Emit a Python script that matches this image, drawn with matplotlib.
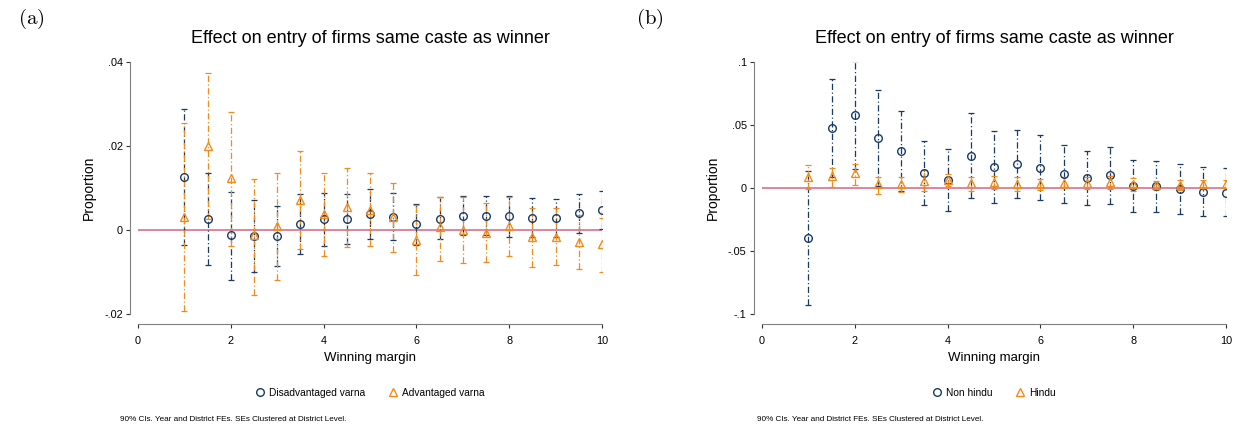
import matplotlib
matplotlib.use("Agg")
import matplotlib.pyplot as plt
import numpy as np

plt.rcParams['font.family'] = ['Liberation Sans', 'DejaVu Sans']
plt.rcParams['mathtext.fontset'] = 'cm'

margin = [1, 1.5, 2, 2.5, 3, 3.5, 4, 4.5, 5, 5.5, 6, 6.5, 7, 7.5, 8, 8.5, 9, 9.5, 10]

# panel (a): caste / varna
dis_est = [0.0126, 0.0025, -0.0013, -0.0014, -0.0015, 0.0014, 0.0025, 0.0026, 0.0038, 0.0032,
           0.0014, 0.0026, 0.0034, 0.0034, 0.0033, 0.0028, 0.0028, 0.0040, 0.0047]
dis_hi = [0.0287, 0.0135, 0.0091, 0.0072, 0.0056, 0.0085, 0.0087, 0.0085, 0.0097, 0.0087,
          0.0062, 0.0079, 0.0082, 0.0082, 0.0082, 0.0075, 0.0074, 0.0086, 0.0093]
dis_lo = [-0.0036, -0.0083, -0.0118, -0.0099, -0.0086, -0.0056, -0.0038, -0.0033, -0.0021, -0.0025,
          -0.0036, -0.0022, -0.0013, -0.0012, -0.0017, -0.0017, -0.0017, -0.0006, 0.0002]

adv_est = [0.0032, 0.0201, 0.0123, -0.0013, 0.0010, 0.0071, 0.0037, 0.0055, 0.0048, 0.0032,
           -0.0024, 0.0006, 0.0000, -0.0006, 0.0010, -0.0016, -0.0016, -0.0029, -0.0033]
adv_hi = [0.0254, 0.0375, 0.0281, 0.0122, 0.0136, 0.0189, 0.0136, 0.0148, 0.0136, 0.0113,
          0.0059, 0.0079, 0.0079, 0.0065, 0.0079, 0.0053, 0.0052, 0.0036, 0.0029]
adv_lo = [-0.0192, 0.0027, -0.0038, -0.0155, -0.0119, -0.0046, -0.0063, -0.0040, -0.0037, -0.0052,
          -0.0107, -0.0075, -0.0079, -0.0077, -0.0063, -0.0087, -0.0084, -0.0094, -0.0099]

# panel (b): religion
nh_est = [-0.0397, 0.0476, 0.0579, 0.0399, 0.0294, 0.0116, 0.0063, 0.0257, 0.0167, 0.0193,
          0.0161, 0.0111, 0.0079, 0.0103, 0.0019, 0.0013, -0.0011, -0.0029, -0.0037]
nh_hi = [0.0135, 0.0868, 0.1008, 0.0780, 0.0608, 0.0373, 0.0307, 0.0598, 0.0452, 0.0463,
         0.0418, 0.0339, 0.0291, 0.0325, 0.0225, 0.0214, 0.0190, 0.0164, 0.0161]
nh_lo = [-0.0929, 0.0084, 0.0150, 0.0018, -0.0020, -0.0138, -0.0180, -0.0079, -0.0119, -0.0079,
         -0.0095, -0.0122, -0.0138, -0.0124, -0.0193, -0.0188, -0.0204, -0.0220, -0.0225]

hin_est = [0.0090, 0.0095, 0.0122, 0.0029, 0.0029, 0.0058, 0.0063, 0.0042, 0.0045, 0.0032,
           0.0029, 0.0042, 0.0040, 0.0045, 0.0029, 0.0021, 0.0024, 0.0029, 0.0029]
hin_hi = [0.0183, 0.0156, 0.0193, 0.0090, 0.0085, 0.0143, 0.0111, 0.0090, 0.0095, 0.0085,
          0.0070, 0.0085, 0.0090, 0.0095, 0.0080, 0.0055, 0.0061, 0.0063, 0.0061]
hin_lo = [-0.0010, 0.0010, 0.0021, -0.0048, -0.0034, -0.0021, 0.0015, -0.0021, -0.0005, -0.0020,
          -0.0013, 0.0000, -0.0011, -0.0005, -0.0023, -0.0013, -0.0014, -0.0005, -0.0003]

navy = '#1a3a66'
orange = '#f08c1e'
zero_col = '#dc7088'
dash = (0, (5, 2, 1, 2))
note = '90% CIs. Year and District FEs. SEs Clustered at District Level.'


def panel(ax, est1, lo1, hi1, est2, lo2, hi2, lab1, lab2, ylim, yticks, yticklabels, note_x):
    x = np.array(margin)
    for est, lo, hi, col, mk, lab in [(est1, lo1, hi1, navy, 'o', lab1),
                                      (est2, lo2, hi2, orange, '^', lab2)]:
        est = np.array(est)
        err = [est - np.array(lo), np.array(hi) - est]
        eb = ax.errorbar(x, est, yerr=err, fmt='none', ecolor=col, elinewidth=0.9,
                         capsize=2.2, capthick=0.9, zorder=3)
        eb[2][0].set_linestyle(dash)
        ax.plot(x, est, linestyle='none', marker=mk, markersize=5.5, markerfacecolor='none',
                markeredgecolor=col, markeredgewidth=1.0, label=lab, zorder=4)
    ax.axhline(0, color=zero_col, lw=1.2, zorder=2)
    ax.set_xlim(0, 10)
    ax.set_ylim(*ylim)
    ax.set_xticks([0, 2, 4, 6, 8, 10])
    ax.set_yticks(yticks)
    ax.set_yticklabels(yticklabels)
    for s in ['top', 'right']:
        ax.spines[s].set_visible(False)
    ax.spines['left'].set_position(('outward', 6))
    ax.spines['bottom'].set_position(('outward', 7))
    ax.spines['left'].set_color('#7f7f7f')
    ax.spines['bottom'].set_color('#7f7f7f')
    ax.tick_params(axis='both', labelsize=7.8, length=3, width=0.8, color='#333333')
    ax.tick_params(axis='x', pad=6)
    ax.tick_params(axis='y', pad=2)
    ax.set_xlabel('Winning margin', fontsize=9.5, labelpad=4)
    ax.set_ylabel('Proportion', fontsize=10, labelpad=6)
    ax.set_title('Effect on entry of firms same caste as winner', fontsize=13, pad=14)
    ax.legend(loc='center', bbox_to_anchor=(0.5, -0.313), ncol=2, frameon=False,
              fontsize=7.3, handletextpad=0.4, columnspacing=2.2, handlelength=1.0)
    ax.text(note_x, -0.417, note, transform=ax.transAxes, fontsize=5.9, ha='left', va='center')


fig = plt.figure(figsize=(12.37, 4.25), dpi=100)
ax1 = fig.add_axes([0.1116, 0.2612, 0.3751, 0.5929])
ax2 = fig.add_axes([0.6160, 0.2612, 0.3751, 0.5929])

panel(ax1, dis_est, dis_lo, dis_hi, adv_est, adv_lo, adv_hi,
      'Disadvantaged varna', 'Advantaged varna',
      (-0.02, 0.04), [-0.02, 0, 0.02, 0.04], ['-.02', '0', '.02', '.04'], -0.039)
panel(ax2, nh_est, nh_lo, nh_hi, hin_est, hin_lo, hin_hi,
      'Non hindu', 'Hindu',
      (-0.1, 0.1), [-0.1, -0.05, 0, 0.05, 0.1], ['-.1', '-.05', '0', '.05', '.1'], -0.011)

fig.text(0.0145, 0.955, r'$\mathrm{(a)}$', fontsize=15, ha='left', va='center')
fig.text(0.514, 0.955, r'$\mathrm{(b)}$', fontsize=15, ha='left', va='center')

fig.savefig('out.png', dpi=100)
